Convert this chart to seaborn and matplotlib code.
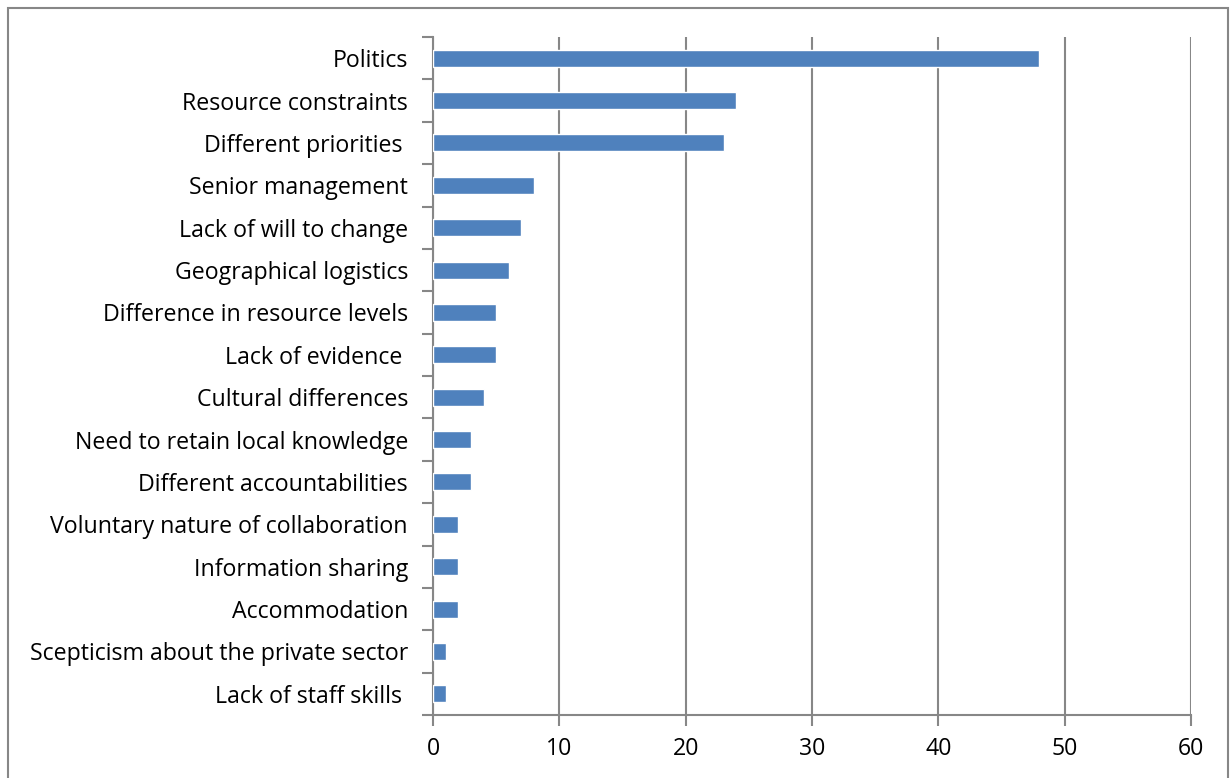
import matplotlib
matplotlib.use("Agg")
import matplotlib.pyplot as plt
import seaborn as sns
import pandas as pd
import numpy as np
from matplotlib.patches import Rectangle

categories = ["Politics", "Resource constraints", "Different priorities ", "Senior management",
              "Lack of will to change", "Geographical logistics", "Difference in resource levels",
              "Lack of evidence ", "Cultural differences", "Need to retain local knowledge",
              "Different accountabilities", "Voluntary nature of collaboration", "Information sharing",
              "Accommodation", "Scepticism about the private sector", "Lack of staff skills "]
values = [48, 24, 23, 8, 7, 6, 5, 5, 4, 3, 3, 2, 2, 2, 1, 1]
xticks = [0, 10, 20, 30, 40, 50, 60]

sns.set_theme(style="white")
plt.rcParams['font.family'] = ['Open Sans', 'DejaVu Sans']

df = pd.DataFrame({"category": categories, "value": values})

fig = plt.figure(figsize=(12.31, 7.78), dpi=100)
ax = fig.add_axes([433/1231, 1-715/778, (1191-433)/1231, (715-37)/778])
sns.barplot(data=df, y="category", x="value", orient="h", color="#4F81BD",
            width=0.4, saturation=1, ax=ax, zorder=3)

gc = "#878787"
ax.set_xlim(0, 60)
ax.set_ylim(len(categories)-0.5, -0.5)
ax.set_xticks(xticks)
ax.set_xticklabels([str(t) for t in xticks])
ax.xaxis.grid(True, color=gc, linewidth=1.5, zorder=0)
ax.set_axisbelow(True)
for s in ["top", "right"]:
    ax.spines[s].set_visible(False)
for s in ["left", "bottom"]:
    ax.spines[s].set_color(gc)
    ax.spines[s].set_linewidth(1.5)
ax.set_xlabel("")
ax.set_ylabel("")
ax.tick_params(axis="x", which="major", length=8, width=1.5, color=gc, direction="out",
               labelsize=16.7, pad=8, bottom=True)
ax.tick_params(axis="y", which="major", length=0, labelsize=16.7, pad=18)
ax.set_yticks(np.arange(-0.5, len(categories), 1), minor=True)
ax.tick_params(axis="y", which="minor", length=8, width=1.5, color=gc, direction="out", left=True)
for lab in ax.get_xticklabels() + ax.get_yticklabels():
    lab.set_color("black")

fig.patches.append(Rectangle((8/1231, -0.05), (1228-8)/1231, 1.05-8/778,
                             transform=fig.transFigure, fill=False, edgecolor=gc,
                             linewidth=1.5, zorder=0))

fig.savefig("out.png", dpi=100)
